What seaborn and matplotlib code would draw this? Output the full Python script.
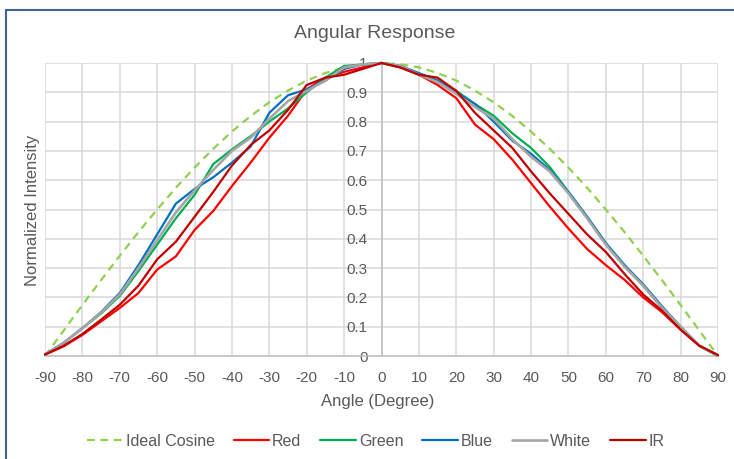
import matplotlib
matplotlib.use("Agg")
import matplotlib.pyplot as plt
from matplotlib.lines import Line2D
import seaborn as sns
import pandas as pd

# ---------------- data ----------------
angles = [-90, -85, -80, -75, -70, -65, -60, -55, -50, -45, -40, -35, -30, -25, -20, -15, -10, -5,
          0, 5, 10, 15, 20, 25, 30, 35, 40, 45, 50, 55, 60, 65, 70, 75, 80, 85, 90]

ideal_cosine = [0.0, 0.087, 0.174, 0.259, 0.342, 0.423, 0.5, 0.574, 0.643, 0.707, 0.766, 0.819, 0.866,
                0.906, 0.94, 0.966, 0.985, 0.996, 1.0, 0.996, 0.985, 0.966, 0.94, 0.906, 0.866, 0.819,
                0.766, 0.707, 0.643, 0.574, 0.5, 0.423, 0.342, 0.259, 0.174, 0.087, 0.0]

red = [0.005, 0.033, 0.072, 0.118, 0.164, 0.215, 0.295, 0.34, 0.43, 0.495, 0.58, 0.66, 0.745,
       0.82, 0.91, 0.95, 0.97, 0.985, 1.0, 0.985, 0.96, 0.925, 0.88, 0.79, 0.74, 0.67, 0.59,
       0.51, 0.435, 0.365, 0.31, 0.26, 0.20, 0.15, 0.09, 0.035, 0.003]

green = [0.005, 0.045, 0.095, 0.145, 0.205, 0.29, 0.38, 0.47, 0.55, 0.655, 0.705, 0.75, 0.80,
         0.845, 0.90, 0.95, 0.99, 0.995, 1.0, 0.99, 0.965, 0.94, 0.905, 0.86, 0.82, 0.76, 0.71,
         0.645, 0.56, 0.475, 0.385, 0.31, 0.24, 0.165, 0.10, 0.035, 0.0]

blue = [0.005, 0.045, 0.095, 0.15, 0.215, 0.31, 0.415, 0.52, 0.57, 0.61, 0.66, 0.715, 0.83,
        0.89, 0.91, 0.94, 0.98, 0.995, 1.0, 0.99, 0.965, 0.94, 0.90, 0.86, 0.80, 0.735, 0.69,
        0.635, 0.56, 0.475, 0.385, 0.31, 0.245, 0.17, 0.10, 0.035, 0.0]

white = [0.005, 0.045, 0.095, 0.148, 0.21, 0.30, 0.395, 0.49, 0.565, 0.635, 0.70, 0.745, 0.81,
         0.87, 0.905, 0.94, 0.985, 0.995, 1.0, 0.99, 0.96, 0.935, 0.895, 0.85, 0.81, 0.74, 0.68,
         0.63, 0.555, 0.47, 0.38, 0.305, 0.24, 0.165, 0.10, 0.035, 0.0]

ir = [0.005, 0.035, 0.075, 0.124, 0.175, 0.24, 0.33, 0.39, 0.475, 0.56, 0.65, 0.72, 0.77,
      0.84, 0.925, 0.95, 0.96, 0.98, 1.0, 0.985, 0.96, 0.95, 0.905, 0.83, 0.77, 0.71, 0.63,
      0.555, 0.485, 0.415, 0.355, 0.28, 0.21, 0.155, 0.09, 0.035, 0.003]

series_names = ["Ideal Cosine", "Red", "Green", "Blue", "White", "IR"]
series_values = [ideal_cosine, red, green, blue, white, ir]

x_ticks = list(range(-90, 91, 10))
x_tick_labels = [str(v) for v in x_ticks]
y_ticks = [0, 0.1, 0.2, 0.3, 0.4, 0.5, 0.6, 0.7, 0.8, 0.9, 1.0]
y_tick_labels = ["0", "0.1", "0.2", "0.3", "0.4", "0.5", "0.6", "0.7", "0.8", "0.9", "1"]

# ---------------- styles ----------------
colors = {"Ideal Cosine": "#92D050", "Red": "#FF0000", "Green": "#00B050",
          "Blue": "#0070C0", "White": "#A5A5A5", "IR": "#C00000"}
widths = {"Ideal Cosine": 1.6, "Red": 1.6, "Green": 1.6, "Blue": 1.6, "White": 1.9, "IR": 1.6}

sns.set_theme(style="white")
plt.rcParams["font.family"] = ["Liberation Sans", "DejaVu Sans"]
text_color = "#595959"
grid_color = "#D9D9D9"

fig = plt.figure(figsize=(7.34, 4.59), dpi=100)
fig.patch.set_facecolor("white")
ax = fig.add_axes([45 / 734, 1 - 356 / 459, 673 / 734, 293 / 459])

df = pd.DataFrame({"angle": angles})
for name, vals in zip(series_names, series_values):
    df[name] = vals

for name in series_names:
    ls = (0, (3.5, 2.5)) if name == "Ideal Cosine" else "-"
    sns.lineplot(data=df, x="angle", y=name, ax=ax, color=colors[name],
                 linewidth=widths[name], linestyle=ls, label=name, legend=False,
                 clip_on=False, zorder=3)

ax.set_xlim(-90, 90)
ax.set_ylim(0, 1)
ax.set_xticks(x_ticks)
ax.set_xticklabels(x_tick_labels)
ax.set_yticks(y_ticks)
ax.set_yticklabels(y_tick_labels)
ax.grid(True, color=grid_color, linewidth=1.1)
ax.set_axisbelow(True)

for s in ["top", "right"]:
    ax.spines[s].set_visible(False)
ax.spines["left"].set_position(("data", 0))
ax.spines["left"].set_color("#BFBFBF")
ax.spines["bottom"].set_color("#BFBFBF")
ax.spines["left"].set_linewidth(1.1)
ax.spines["bottom"].set_linewidth(1.1)

ax.tick_params(axis="x", length=0, pad=11, labelsize=11, labelcolor=text_color)
ax.tick_params(axis="y", length=0, pad=10, labelsize=11, labelcolor=text_color)

ax.set_xlabel("Angle (Degree)", fontsize=12, color=text_color)
ax.xaxis.set_label_coords((378 - 45) / 673, -0.13)
ax.set_ylabel("")
fig.text(33 / 734, 1 - 210 / 459, "Normalized Intensity", rotation=90,
         ha="center", va="center", fontsize=12, color=text_color)

fig.text(375 / 734, 1 - 34 / 459, "Angular Response", ha="center", va="center",
         fontsize=14, color=text_color)

handles, labels = ax.get_legend_handles_labels()
fig.legend(handles, labels, loc="center", bbox_to_anchor=(376 / 734, 1 - 441 / 459),
           ncol=6, frameon=False, fontsize=11.5, handlelength=2.2, handletextpad=0.2,
           columnspacing=1.2, labelcolor=text_color)

# chart border (screenshot frame)
border = "#41639B"
fig.add_artist(Line2D([6 / 734, 6 / 734], [0, 1 - 10 / 459], transform=fig.transFigure,
                      color=border, linewidth=1.5))
fig.add_artist(Line2D([6 / 734, 1], [1 - 10 / 459, 1 - 10 / 459], transform=fig.transFigure,
                      color=border, linewidth=1.5))

fig.savefig("out.png", dpi=100, facecolor="white")
